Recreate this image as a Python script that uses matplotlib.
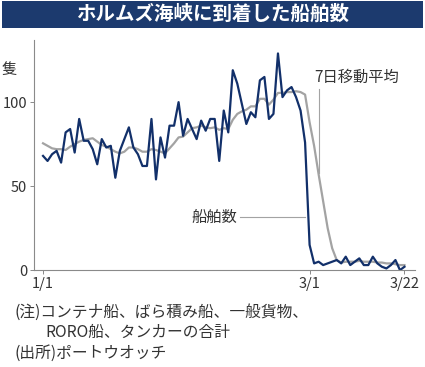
import numpy as np
import matplotlib
matplotlib.use("Agg")
import matplotlib.pyplot as plt
import matplotlib.dates as mdates
from matplotlib.patches import Rectangle
import pandas as pd

plt.rcParams['font.family'] = ['Noto Sans CJK JP', 'DejaVu Sans']

# daily arrivals, 1/1 .. 3/22
ships = [68, 65, 69, 71, 64, 82, 84, 70, 90, 77,
         77, 72, 63, 78, 73, 74, 55, 71, 78, 85,
         73, 69, 62, 62, 90, 54, 79, 67, 86, 86,
         100, 80, 90, 84, 78, 89, 83, 90, 90, 65,
         95, 82, 119, 111, 99, 87, 94, 91, 113, 115,
         90, 93, 129, 103, 107, 109, 103, 95, 76, 15,
         4, 5, 3, 4, 5, 6, 4, 8, 3, 5,
         7, 3, 3, 8, 4, 2, 1, 3, 6, 0,
         2]
# 7-day moving average as drawn
avg7 = [75.5, 74, 72.5, 72, 72, 71.5, 73.5, 75, 76.5, 77.5,
        78, 78.5, 76.5, 74.5, 73.5, 72, 70.5, 69.5, 70.5, 73,
        73, 72, 70.5, 70.5, 72, 71.5, 70.5, 69.5, 72.5, 75.5,
        79, 79.5, 82, 84.5, 85, 86, 85, 84.5, 85, 83.5,
        84.5, 84, 89.5, 93, 94.5, 95.5, 97.5, 97.5, 102, 102,
        98.5, 101.5, 105.5, 105.5, 106, 106, 106.5, 106, 104.5, 88,
        74, 57, 41, 25, 13, 6, 4.5, 5, 5, 5,
        5.5, 5, 5, 5, 4.5, 4.5, 4, 4, 3.5, 3,
        3]
dates = pd.date_range('2026-01-01', '2026-03-22')
tick_dates = ['2026-01-01', '2026-03-01', '2026-03-22']
tick_labels = ['1/1', '3/1', '3/22']
yticks = [0, 50, 100]

navy = '#12306a'
grey = '#a3a3a3'
txt = '#333333'

fig = plt.figure(figsize=(4.25, 3.67), dpi=100)

# title bar
fig.patches.append(Rectangle((0.005, 0.924), 0.99, 0.073, transform=fig.transFigure,
                             facecolor='#1c3a6e', edgecolor='none'))
fig.text(0.5, 0.961, 'ホルムズ海峡に到着した船舶数', color='white', fontsize=14,
         fontweight='bold', ha='center', va='center')

ax = fig.add_axes([0.08, 0.264, 0.8965, 0.627])
ax.plot(dates, avg7, color=grey, lw=1.6, solid_joinstyle='round')
ax.plot(dates, ships, color=navy, lw=1.6, solid_joinstyle='round')

ax.set_ylim(0, 137)
ax.set_xlim(pd.Timestamp('2025-12-30'), pd.Timestamp('2026-03-24 08:00'))
ax.set_yticks(yticks)
ax.set_xticks(pd.to_datetime(tick_dates))
ax.set_xticklabels(tick_labels)
for s in ['top', 'right']:
    ax.spines[s].set_visible(False)
for s in ['left', 'bottom']:
    ax.spines[s].set_color('#8a8a8a')
    ax.spines[s].set_linewidth(0.8)
ax.tick_params(length=3, width=0.7, color='#8a8a8a', labelsize=10.5,
               labelcolor=txt, pad=2)

ax.text(-0.065, 0.87, '隻', transform=ax.transAxes, fontsize=11, color=txt,
        ha='center', va='center')

# annotations
x7 = pd.Timestamp('2026-03-03')
ax.plot([x7, x7], [58, 108], color=grey, lw=0.8)
ax.text(x7 - pd.Timedelta(days=1), 115, '7日移動平均', fontsize=11, color=txt,
        ha='left', va='center')
ax.plot([pd.Timestamp('2026-02-13 12:00'), pd.Timestamp('2026-02-28')], [31.5, 31.5],
        color=grey, lw=0.8)
ax.text(pd.Timestamp('2026-02-13'), 31.5, '船舶数', fontsize=11, color=txt,
        ha='right', va='center')

# notes
fig.text(0.035, 0.150, '(注)コンテナ船、ばら積み船、一般貨物、', fontsize=11.3,
         color=txt, va='center')
fig.text(0.106, 0.095, 'RORO船、タンカーの合計', fontsize=11.3, color=txt, va='center')
fig.text(0.035, 0.038, '(出所)ポートウオッチ', fontsize=11.3, color=txt, va='center')

fig.savefig('out.png', dpi=100)
